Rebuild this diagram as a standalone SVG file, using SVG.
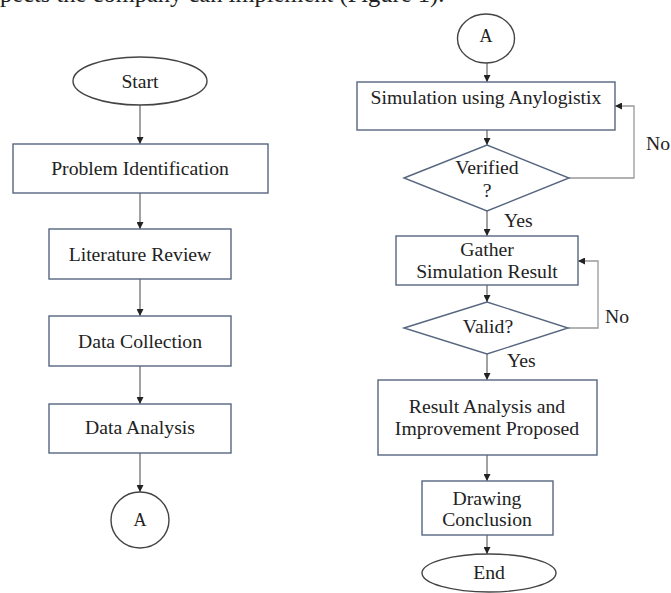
<svg xmlns="http://www.w3.org/2000/svg" width="671" height="593" viewBox="0 0 671 593">
<defs>
<marker id="arr" markerUnits="userSpaceOnUse" markerWidth="7" markerHeight="7" refX="7" refY="3.5" orient="auto">
<path d="M0,0 L7,3.5 L0,7 z" fill="#222"/>
</marker>
<style>
text{font-family:"Liberation Serif","Times New Roman",serif;font-size:19.7px;fill:#222;text-anchor:middle}
.box{fill:#fff;stroke:#56667f;stroke-width:1.4}
.term{fill:#fff;stroke:#444;stroke-width:1.4}
.ln{fill:none;stroke:#555;stroke-width:1.1;marker-end:url(#arr)}
.lp{fill:none;stroke:#999;stroke-width:1.3;marker-end:url(#arr)}
.lbl{text-anchor:start}
</style>
</defs>
<rect width="671" height="593" fill="#fff"/>
<text x="0" y="2" style="font-size:24.5px;text-anchor:start">pects the company can implement (Figure 1).</text>
<g id="connectors">
<line class="ln" x1="140" y1="105" x2="140" y2="144"/>
<line class="ln" x1="140" y1="193" x2="140" y2="229"/>
<line class="ln" x1="140" y1="279" x2="140" y2="316"/>
<line class="ln" x1="140" y1="366" x2="140" y2="404"/>
<line class="ln" x1="140" y1="453" x2="140" y2="492"/>
<line class="ln" x1="487" y1="63" x2="487" y2="82"/>
<line class="ln" x1="487" y1="130" x2="487" y2="145"/>
<line class="ln" x1="487" y1="211" x2="487" y2="236"/>
<line class="ln" x1="487" y1="285" x2="487" y2="302"/>
<line class="ln" x1="487" y1="354" x2="487" y2="380"/>
<line class="ln" x1="487" y1="455" x2="487" y2="481"/>
<line class="ln" x1="487" y1="535" x2="487" y2="554"/>
<polyline class="lp" points="569,178 634,178 634,106 615,106"/>
<polyline class="lp" points="568,328 598,328 598,261 578,261"/>
<text class="lbl" x="646" y="150">No</text>
<text class="lbl" x="504" y="227">Yes</text>
<text class="lbl" x="605" y="323">No</text>
<text class="lbl" x="507" y="367">Yes</text>
</g>
<g id="start"><ellipse class="term" cx="140" cy="81" rx="67" ry="24"/><text x="140" y="88">Start</text></g>
<g id="problem"><rect class="box" x="13" y="144" width="255" height="49"/><text x="140" y="175">Problem Identification</text></g>
<g id="literature"><rect class="box" x="49" y="229" width="182" height="50"/><text x="140" y="261">Literature Review</text></g>
<g id="collection"><rect class="box" x="49" y="316" width="182" height="50"/><text x="140" y="348">Data Collection</text></g>
<g id="analysis"><rect class="box" x="49" y="404" width="182" height="49"/><text x="140" y="434">Data Analysis</text></g>
<g id="connA1"><ellipse class="term" cx="140" cy="520" rx="29" ry="28"/><text x="140" y="526" style="font-size:18px">A</text></g>
<g id="connA2"><ellipse class="term" cx="486" cy="38.5" rx="28.5" ry="24.5"/><text x="486" y="42" style="font-size:18px">A</text></g>
<g id="simulation"><rect class="box" x="357" y="82" width="258" height="48"/><text x="486" y="104">Simulation using Anylogistix</text></g>
<g id="verified"><polygon class="box" points="404,178 487,145 569,178 487,211"/><text x="487" y="174">Verified</text><text x="487" y="197">?</text></g>
<g id="gather"><rect class="box" x="396" y="236" width="182" height="49"/><text x="487" y="256">Gather</text><text x="487" y="278">Simulation Result</text></g>
<g id="valid"><polygon class="box" points="404,328 487,302 568,328 487,354"/><text x="488" y="333">Valid?</text></g>
<g id="result"><rect class="box" x="378" y="380" width="219" height="75"/><text x="487" y="413">Result Analysis and</text><text x="487" y="435">Improvement Proposed</text></g>
<g id="drawing"><rect class="box" x="422" y="481" width="131" height="54"/><text x="487" y="505">Drawing</text><text x="487" y="526">Conclusion</text></g>
<g id="end"><ellipse class="term" cx="489" cy="573" rx="67" ry="19"/><text x="489" y="579">End</text></g>
</svg>
